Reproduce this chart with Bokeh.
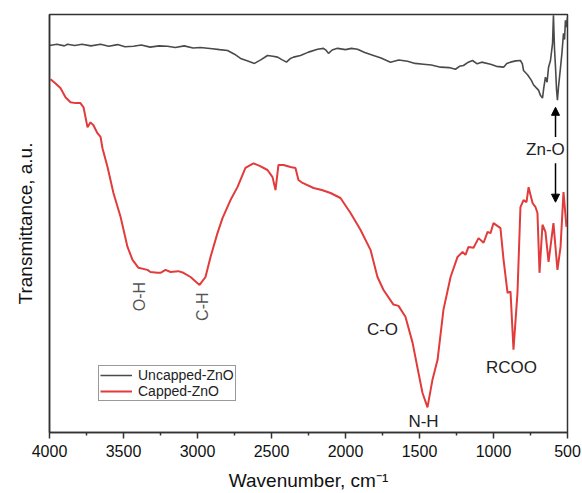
from math import pi
from bokeh.plotting import figure
from bokeh.models import Range1d, FixedTicker, Legend, LegendItem, Arrow, NormalHead
from bokeh.core.properties import value
from bokeh.embed import file_html
from bokeh.resources import INLINE

# ---- data (wavenumber cm^-1, transmittance a.u.) ----
uncapped_x = [4000, 3950, 3900, 3878, 3830, 3780, 3720, 3655, 3600, 3540, 3490, 3432, 3380, 3320, 3260,
              3203, 3150, 3090, 3030, 2980, 2900, 2850, 2797, 2750, 2709, 2660, 2615, 2570, 2527,
              2490, 2459, 2430, 2399, 2375, 2351, 2304, 2250, 2189, 2149, 2130, 2115, 2090, 2054,
              2000, 1960, 1919, 1870, 1811, 1760, 1696, 1640, 1581, 1530, 1473, 1420, 1358, 1300,
              1257, 1230, 1203, 1170, 1142, 1110, 1080, 1020, 980, 932, 910, 885, 850, 818, 805,
              797, 770, 745, 730, 712, 696, 682, 669, 660, 649, 638, 628, 615, 601, 595, 588,
              581, 574, 568, 560, 547, 537, 527, 520, 514, 507, 500]
uncapped_y = [92.6, 92.9, 92.5, 92.9, 92.6, 92.9, 92.5, 92.9, 92.4, 92.8, 92.3, 92.4, 92.7, 92.2, 92.5,
              92.4, 92.1, 92.5, 92.0, 92.1, 91.8, 91.6, 91.4, 90.5, 89.5, 88.9, 88.3, 89.2, 90.2,
              90.0, 89.8, 89.2, 88.6, 89.4, 89.8, 90.2, 91.0, 91.7, 91.9, 91.4, 90.7, 91.5, 91.9,
              91.6, 91.9, 91.7, 90.9, 90.2, 89.6, 88.6, 89.1, 88.8, 88.3, 88.1, 87.9, 87.4, 87.3,
              86.9, 87.6, 87.8, 88.6, 89.0, 88.2, 88.6, 88.1, 87.6, 87.4, 88.3, 88.6, 88.9, 89.0, 88.2,
              86.6, 85.6, 84.3, 83.2, 82.5, 81.9, 80.6, 80.0, 82.5, 85.0, 83.8, 87.4, 89.0, 93.1, 99.8, 92.0,
              87.4, 82.0, 79.5, 83.0, 87.4, 91.0, 95.5, 94.0, 98.6, 97.0, 99.3]

capped_x = [3993, 3959, 3926, 3892, 3858, 3824, 3791, 3770, 3743, 3723, 3703, 3676, 3655, 3642,
            3608, 3568, 3520, 3473, 3439, 3399, 3338, 3318, 3270, 3250, 3216, 3182, 3130, 3095,
            3047, 2986, 2946, 2912, 2865, 2831, 2777, 2730, 2676, 2622, 2580, 2527, 2493, 2473,
            2453, 2419, 2372, 2338, 2318, 2290, 2216, 2160, 2101, 2034, 1966, 1899, 1831, 1784,
            1743, 1676, 1642, 1595, 1547, 1507, 1480, 1446, 1412, 1378, 1338, 1290, 1243, 1209,
            1189, 1169, 1135, 1101, 1067, 1040, 1020, 1000, 953, 932, 905, 885, 865, 838, 818,
            797, 777, 763, 736, 716, 703, 689, 669, 649, 628, 595, 568, 547, 527, 507]
capped_y = [84.5, 83.5, 82.4, 80.2, 79.0, 78.8, 78.8, 77.8, 73.0, 74.2, 73.5, 71.6, 70.7, 68.0,
            63.5, 57.3, 51.6, 44.4, 41.3, 39.4, 38.9, 38.4, 38.2, 38.2, 38.9, 38.4, 38.6, 38.2,
            37.2, 35.3, 37.2, 42.0, 47.7, 51.3, 55.6, 58.7, 63.3, 64.4, 63.8, 62.8, 61.1, 58.0,
            64.0, 64.0, 63.5, 63.3, 60.4, 59.7, 58.5, 58.0, 57.3, 56.1, 52.5, 48.5, 43.7, 37.2,
            34.1, 30.6, 30.3, 27.7, 21.5, 14.3, 9.5, 6.0, 12.7, 17.4, 29.4, 37.2, 42.0, 43.2,
            42.5, 44.4, 44.2, 46.5, 45.4, 48.0, 47.7, 50.1, 48.9, 41.3, 33.4, 33.7, 19.8, 33.4, 53.9,
            55.6, 55.1, 58.7, 54.9, 53.9, 52.5, 38.2, 49.7, 48.0, 40.8, 50.1, 38.9, 44.4, 57.5, 49.2]

series_names = ["Uncapped-ZnO", "Capped-ZnO"]
x_ticks = [4000, 3500, 3000, 2500, 2000, 1500, 1000, 500]
x_minor = [3750, 3250, 2750, 2250, 1750, 1250, 750]

rot_labels = ["O-H", "C-H"]
rot_x = [3392, 2966]
rot_y = [32.5, 30.1]

band_labels = ["C-O", "N-H", "RCOO", "Zn-O"]
band_x = [1750, 1473, 878, 649]
band_y = [24.6, 2.6, 15.5, 67.6]

arrow_x = 581
arrow_up = (70.7, 77.8)
arrow_down = (64.4, 55.1)

FONT = "Liberation Sans"

p = figure(width=582, height=493, output_backend="svg", toolbar_location=None,
           x_range=Range1d(4000, 500), y_range=Range1d(0, 100),
           min_border_left=49, min_border_top=14, min_border_right=15, min_border_bottom=60)
p.xgrid.visible = False
p.ygrid.visible = False
p.outline_line_color = "#333333"
p.outline_line_width = 1.5

p.xaxis.ticker = FixedTicker(ticks=x_ticks, minor_ticks=x_minor)
p.xaxis.axis_label = "Wavenumber, cm\u207b\u00b9"
p.xaxis.axis_label_text_font = FONT
p.xaxis.axis_label_text_font_size = "19px"
p.xaxis.axis_label_text_font_style = "normal"
p.xaxis.axis_label_text_color = "#111111"
p.xaxis.axis_label_standoff = 10
p.xaxis.major_label_text_font = FONT
p.xaxis.major_label_text_font_size = "16px"
p.xaxis.major_label_text_color = "#111111"
p.xaxis.major_label_standoff = 6
p.xaxis.major_tick_in = 0
p.xaxis.major_tick_out = 6
p.xaxis.minor_tick_in = 0
p.xaxis.minor_tick_out = 3
p.xaxis.axis_line_color = "#333333"
p.xaxis.axis_line_width = 1.5
p.xaxis.major_tick_line_color = "#333333"
p.xaxis.major_tick_line_width = 1.5
p.xaxis.minor_tick_line_color = "#333333"
p.xaxis.minor_tick_line_width = 1.5

p.yaxis.ticker = FixedTicker(ticks=[])
p.yaxis.axis_label = "Transmittance, a.u."
p.yaxis.axis_label_text_font = FONT
p.yaxis.axis_label_text_font_size = "19px"
p.yaxis.axis_label_text_font_style = "normal"
p.yaxis.axis_label_text_color = "#111111"
p.yaxis.axis_label_standoff = 14
p.yaxis.major_tick_out = 0
p.yaxis.major_tick_in = 0
p.yaxis.minor_tick_out = 0
p.yaxis.minor_tick_in = 0
p.yaxis.major_label_standoff = 0
p.yaxis.axis_line_color = "#333333"
p.yaxis.axis_line_width = 1.5

r1 = p.line(uncapped_x, uncapped_y, line_color="#4a4a4a", line_width=1.6)
r2 = p.line(capped_x, capped_y, line_color="#e23b3b", line_width=2)

p.text(x=rot_x, y=rot_y, text=rot_labels, angle=pi / 2, text_align="center",
       text_baseline="middle", text_font=value(FONT), text_font_size="16px", text_color="#555555")
p.text(x=band_x, y=band_y, text=band_labels, text_align="center",
       text_baseline="middle", text_font=value(FONT), text_font_size="17px", text_color="#222222")

p.add_layout(Arrow(end=NormalHead(size=8, fill_color="black", line_color="black"),
                   x_start=arrow_x, y_start=arrow_up[0], x_end=arrow_x, y_end=arrow_up[1],
                   line_color="black", line_width=1.5))
p.add_layout(Arrow(end=NormalHead(size=8, fill_color="black", line_color="black"),
                   x_start=arrow_x, y_start=arrow_down[0], x_end=arrow_x, y_end=arrow_down[1],
                   line_color="black", line_width=1.5))

legend = Legend(items=[LegendItem(label=series_names[0], renderers=[r1]),
                       LegendItem(label=series_names[1], renderers=[r2])],
                location=(49, 31))
legend.label_text_font = FONT
legend.label_text_font_size = "14px"
legend.label_text_color = "#222222"
legend.glyph_width = 32
legend.glyph_height = 14
legend.label_height = 14
legend.label_standoff = 6
legend.spacing = 0
legend.padding = 1
legend.margin = 0
legend.border_line_color = "#333333"
legend.border_line_width = 1
legend.background_fill_alpha = 1
p.add_layout(legend)

open("out.html", "w").write(file_html(p, INLINE))
